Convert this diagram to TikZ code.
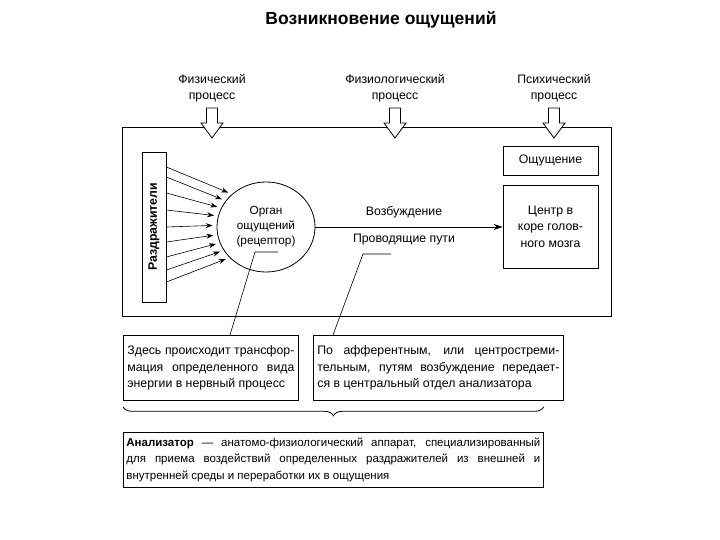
\documentclass[tikz,border=0pt]{standalone}
\usepackage{fontspec}
\setmainfont{Liberation Sans}
\usetikzlibrary{positioning,arrows.meta,shapes.geometric,decorations.pathreplacing}

\begin{document}
\begin{tikzpicture}[
    x=1pt, y=-1pt,
    font=\fontsize{12.3}{16.5}\selectfont,
    every node/.style={inner sep=0pt},
    caption/.style = {align=center},
    box/.style = {draw, line width=0.8pt, align=center},
    note/.style = {draw, line width=0.8pt, align=justify, anchor=north west, inner xsep=4pt, inner ysep=3pt},
    ray/.style = {-{Stealth[length=7pt,width=5pt]}, line width=0.6pt},
    lead/.style = {line width=0.6pt},
    hollow/.pic = {\draw[line width=0.8pt, fill=white] (-5.5,-30) -- (5.5,-30) -- (5.5,-15) -- (11,-15) -- (0,0) -- (-11,-15) -- (-5.5,-15) -- cycle;}
]
    \useasboundingbox (0,0) rectangle (720,540);

    % Title
    \node [font=\bfseries\fontsize{17.5}{20}\selectfont] (title) at (381,20) {Возникновение ощущений};

    % Processes
    \node [caption] (phys) at (212,88) {Физический\\процесс};
    \node [caption] (physio) at (395,88) {Физиологический\\процесс};
    \node [caption] (psych) at (554,88) {Психический\\процесс};

    % Frame and process arrows
    \draw [line width=0.8pt] (122,127) rectangle (611,316);
    \pic at (212,138) {hollow};
    \pic at (395,138) {hollow};
    \pic at (554,138) {hollow};

    % Inside the frame
    \node [box, minimum width=24pt, minimum height=150pt] (stimuli) at (154,227) {\rotatebox{90}{\bfseries Раздражители}};
    \node [draw, ellipse, line width=0.8pt, minimum width=98pt, minimum height=90pt, align=center,
           font=\fontsize{11.8}{15}\selectfont] (organ) at (266,227) {Орган\\ощущений\\(рецептор)};
    \node [box, minimum width=95pt, minimum height=29pt] (sense) at (550.5,160.5) {Ощущение};
    \node [box, minimum width=95pt, minimum height=83pt] (centre) at (550.5,226.5) {Центр в\\коре голов-\\ного мозга};

    % Stimuli
    \foreach \s/\a in {60/136, 50/147, 34/157, 17/167, 0/178, -15/189, -30/199, -43/209, -55/220}
        \draw [ray, shorten >=4pt] ([yshift=\s pt]stimuli.east) -- (organ.\a);

    % Excitation
    \draw [ray, -{Stealth[length=9pt,width=6pt]}] (organ.east) -- (organ.east -| centre.west)
        node [midway, above=9pt, xshift=-5pt] (excite) {Возбуждение}
        node [midway, below=7pt, xshift=-5pt] (paths) {Проводящие пути};

    % Notes
    \node [note, text width=167pt, minimum height=65pt] (leftnote) at (123,335)
        {Здесь происходит трансфор-\linebreak мация определенного вида\linebreak энергии в нервный процесс};
    \node [note, text width=242pt, minimum height=65pt] (rightnote) at (313,335)
        {По афферентным, или центростреми-\linebreak тельным, путям возбуждение передает-\linebreak ся в центральный отдел анализатора};
    \node [note, text width=414pt, inner xsep=3pt, minimum height=55pt, font=\fontsize{11.5}{16.5}\selectfont] (defn) at (123,432)
        {\textbf{Анализатор} — анатомо-физиологический аппарат, специализированный\linebreak для приема воздействий определенных раздражителей из внешней и\linebreak внутренней среды и переработки их в ощущения};

    % Leaders
    \coordinate (recLead) at (278,252);
    \coordinate (pathLead) at (391,254);
    \draw [lead] (recLead) -- ++(-23,0) -- ([xshift=107pt]leftnote.north west);
    \draw [lead] (pathLead) -- ++(-28,0) -- ([xshift=20pt]rightnote.north west);

    % Brace
    \draw [line width=0.8pt, decorate, decoration={brace, mirror, amplitude=9pt}]
        ([yshift=-6pt]leftnote.south west) -- ([yshift=-6pt]leftnote.south west -| defn.east);
\end{tikzpicture}
\end{document}
